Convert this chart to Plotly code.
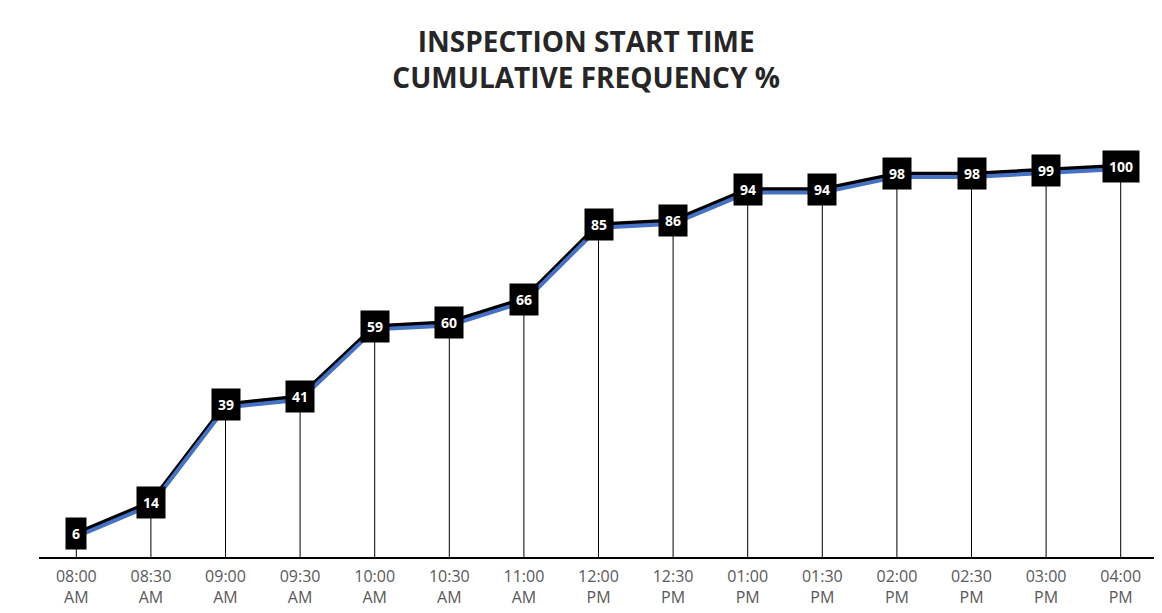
import plotly.graph_objects as go

categories = ["08:00<br>AM", "08:30<br>AM", "09:00<br>AM", "09:30<br>AM", "10:00<br>AM",
              "10:30<br>AM", "11:00<br>AM", "12:00<br>PM", "12:30<br>PM", "01:00<br>PM",
              "01:30<br>PM", "02:00<br>PM", "02:30<br>PM", "03:00<br>PM", "04:00<br>PM"]
cum_pct = [6, 14, 39, 41, 59, 60, 66, 85, 86, 94, 94, 98, 98, 99, 100]

# page body adds an 8px offset, so the figure is 8px smaller
W, H = 1154, 605
ML, MR, MT, MB = 31, 4, 119, 56
YMAX = 110
px_per_unit = (H - MT - MB) / YMAX
shadow_px = 3

fig = go.Figure()

# blue shadow line on a slightly shifted overlay axis
shift = shadow_px / px_per_unit
fig.add_trace(go.Scatter(
    x=categories, y=cum_pct, mode="lines", yaxis="y2",
    line=dict(color="#4472C4", width=4), hoverinfo="skip", showlegend=False))

# drop lines
fig.add_trace(go.Scatter(
    x=categories, y=cum_pct, mode="markers",
    marker=dict(size=1, color="rgba(0,0,0,0)"),
    error_y=dict(type="data", symmetric=False, array=[0]*len(cum_pct),
                 arrayminus=cum_pct, color="black", thickness=1, width=0),
    hoverinfo="skip", showlegend=False))

# main line
fig.add_trace(go.Scatter(
    x=categories, y=cum_pct, mode="lines",
    line=dict(color="black", width=4.5), showlegend=False))

for c, v in zip(categories, cum_pct):
    fig.add_annotation(x=c, y=v, xref="x", yref="y", text="<b>%d</b>" % v,
                       showarrow=False, bgcolor="black",
                       font=dict(family="Open Sans", size=14, color="white"),
                       borderpad=6)

fig.update_layout(
    width=W, height=H,
    margin=dict(l=ML, r=MR, t=MT, b=MB),
    paper_bgcolor="white", plot_bgcolor="white",
    title=dict(text="<b>INSPECTION START TIME<br>CUMULATIVE FREQUENCY %</b>",
               x=0.501, xanchor="center", y=1 - 44 / H, yanchor="top",
               font=dict(family="Open Sans", size=28, color="#262626")),
    xaxis=dict(type="category", showgrid=False, showline=True, linecolor="black",
               linewidth=1.5, ticks="", ticklabelstandoff=4, automargin=False,
               tickfont=dict(family="Open Sans", size=16, color="#595959"),
               range=[-0.5, len(categories) - 0.5]),
    yaxis=dict(range=[0, YMAX], visible=False, showgrid=False, automargin=False),
    yaxis2=dict(range=[shift, YMAX + shift], overlaying="y", visible=False, showgrid=False),
)

fig.write_html("out.html")
